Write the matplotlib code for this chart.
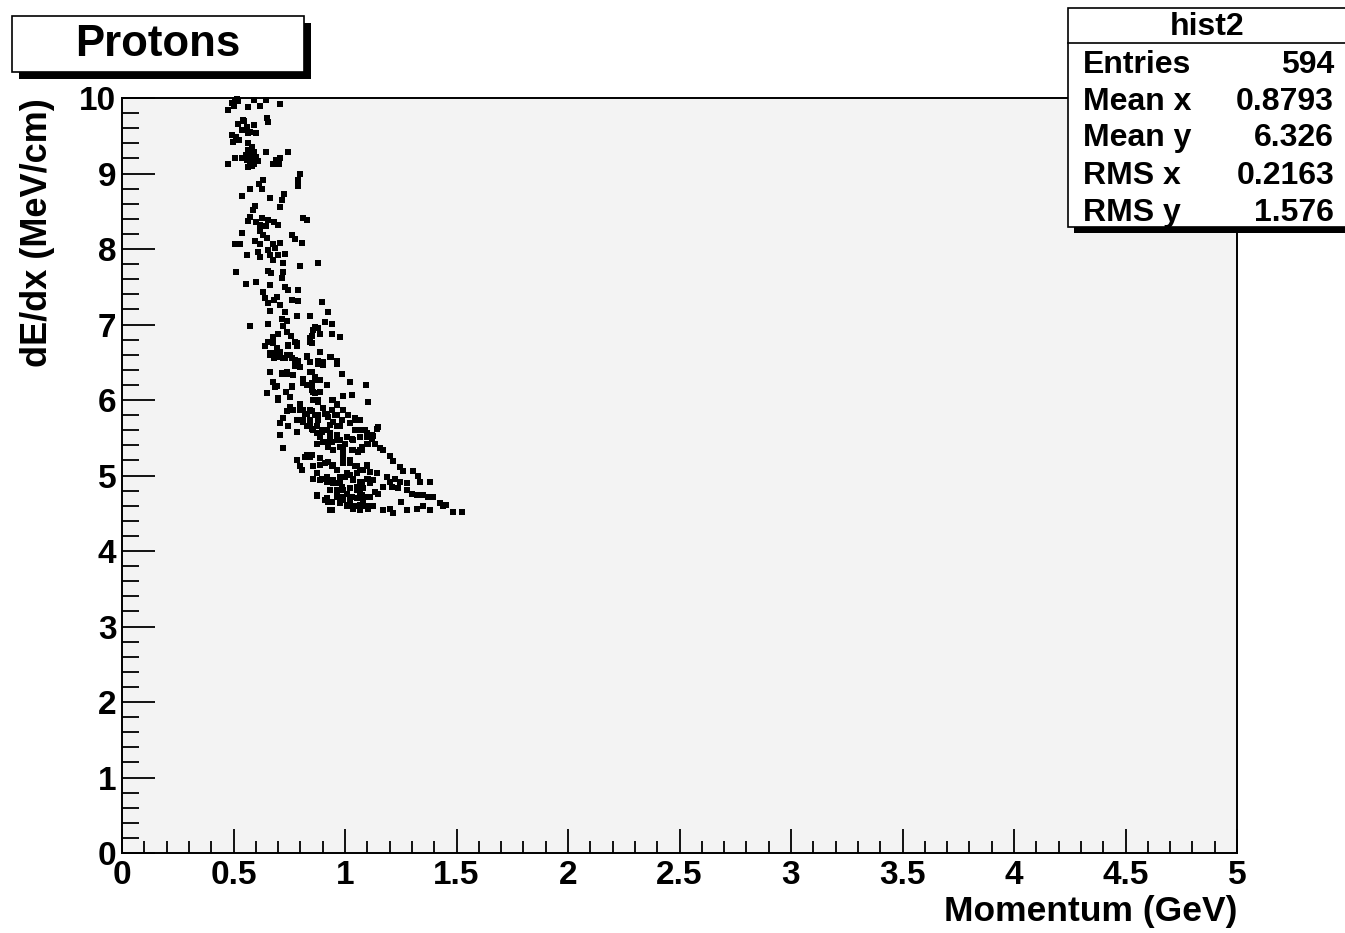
import matplotlib
matplotlib.use("Agg")
import matplotlib.pyplot as plt
from matplotlib.patches import Rectangle
from matplotlib.ticker import MultipleLocator

plt.rcParams['font.family'] = ['Liberation Sans', 'DejaVu Sans']
plt.rcParams['font.weight'] = 'bold'

# (momentum GeV, dE/dx MeV/cm), by band of dE/dx
pts_top = [
    (0.477, 9.84), (0.492, 9.93), (0.507, 9.97), (0.522, 9.96), (0.566, 9.88),
    (0.593, 9.98), (0.619, 9.90), (0.644, 9.98), (0.709, 9.92), (0.649, 9.73),
    (0.656, 9.68), (0.522, 9.66), (0.548, 9.70), (0.559, 9.62), (0.593, 9.64),
    (0.537, 9.57), (0.566, 9.54), (0.599, 9.53), (0.492, 9.51), (0.510, 9.48),
    (0.499, 9.42), (0.525, 9.44), (0.566, 9.40), (0.584, 9.35), (0.555, 9.24),
    (0.570, 9.27), (0.593, 9.29), (0.599, 9.22), (0.574, 9.16), (0.559, 9.18),
    (0.581, 9.10), (0.611, 9.16), (0.507, 9.21), (0.477, 9.13), (0.644, 9.29),
    (0.743, 9.29), (0.689, 9.18), (0.709, 9.20), (0.704, 9.12), (0.679, 9.12),
    (0.537, 9.21), (0.596, 9.16), (0.585, 9.20), (0.565, 9.31), (0.590, 9.12),
    (0.507, 9.96), (0.544, 9.71), (0.559, 9.60), (0.574, 9.55), (0.581, 9.22),
    (0.596, 9.16), (0.559, 9.24), (0.566, 9.09), (0.694, 9.16), (0.709, 9.20),
    (0.515, 9.99), (0.500, 9.90), (0.578, 9.26), (0.588, 9.18),
]
pts_upper = [
    (0.798, 9.00), (0.791, 8.91), (0.791, 8.83), (0.634, 8.92), (0.614, 8.86),
    (0.629, 8.79), (0.574, 8.79), (0.537, 8.70), (0.664, 8.68), (0.726, 8.73),
    (0.716, 8.65), (0.709, 8.55), (0.596, 8.57), (0.589, 8.51), (0.574, 8.43),
    (0.566, 8.37), (0.599, 8.36), (0.629, 8.41), (0.656, 8.39), (0.683, 8.36),
    (0.698, 8.32), (0.619, 8.32), (0.813, 8.41), (0.828, 8.38), (0.644, 8.30),
    (0.537, 8.21), (0.619, 8.24), (0.634, 8.19), (0.649, 8.15), (0.761, 8.19),
    (0.776, 8.13), (0.809, 8.08), (0.507, 8.07), (0.529, 8.07), (0.596, 8.10),
    (0.619, 8.07), (0.679, 8.07), (0.709, 8.08), (0.653, 7.99), (0.686, 8.01),
    (0.611, 7.96), (0.619, 7.89), (0.559, 7.92), (0.664, 7.92), (0.701, 7.92),
    (0.731, 7.94), (0.679, 7.85), (0.723, 7.81), (0.798, 7.77), (0.880, 7.81),
]
pts_mid = [
    (0.510, 7.70), (0.653, 7.71), (0.668, 7.68), (0.723, 7.70), (0.716, 7.61),
    (0.555, 7.54), (0.599, 7.56), (0.664, 7.52), (0.731, 7.50), (0.746, 7.46),
    (0.791, 7.46), (0.634, 7.43), (0.641, 7.35), (0.656, 7.28), (0.694, 7.37),
    (0.683, 7.32), (0.761, 7.33), (0.791, 7.31), (0.709, 7.26), (0.731, 7.17),
    (0.664, 7.18), (0.895, 7.30), (0.925, 7.17), (0.843, 7.11), (0.783, 7.11),
    (0.910, 7.03), (0.574, 6.98), (0.653, 7.01), (0.716, 7.07), (0.739, 7.04),
    (0.723, 6.98), (0.940, 7.01), (0.943, 6.88), (0.978, 6.83), (0.858, 6.93),
    (0.880, 6.96), (0.739, 6.90), (0.758, 6.85), (0.776, 6.77), (0.701, 6.87),
    (0.679, 6.83), (0.664, 6.77), (0.641, 6.72), (0.843, 6.82), (0.851, 6.75),
    (0.746, 6.72), (0.783, 6.71), (0.694, 6.69), (0.664, 6.62), (0.828, 6.58),
    (0.888, 6.64), (0.937, 6.57), (0.709, 6.57), (0.739, 6.60), (0.888, 6.88),
    (0.866, 6.97), (0.850, 6.85), (0.683, 6.55), (0.720, 6.55), (0.763, 6.55),
    (0.791, 6.52), (0.843, 6.50), (0.880, 6.52), (0.903, 6.50), (0.962, 6.52),
]
pts_low = [
    (0.664, 6.37), (0.716, 6.36), (0.739, 6.35), (0.768, 6.33), (0.843, 6.37),
    (0.865, 6.31), (0.851, 6.22), (0.888, 6.26), (0.985, 6.35), (1.022, 6.24),
    (1.094, 6.20), (0.679, 6.24), (0.694, 6.18), (0.761, 6.18), (0.828, 6.20),
    (0.851, 6.13), (0.649, 6.09), (0.701, 6.00), (0.753, 6.04), (0.865, 6.09),
    (0.880, 6.00), (0.948, 6.00), (0.962, 5.93), (1.030, 6.07), (1.105, 5.98),
    (0.753, 5.91), (0.768, 5.87), (0.798, 5.87), (0.821, 5.82), (0.843, 5.87),
    (0.865, 5.80), (0.813, 5.74), (0.843, 5.71), (0.880, 5.74), (0.910, 5.82),
    (0.925, 5.78), (0.948, 5.71), (0.978, 5.65), (0.993, 5.87), (1.015, 5.80),
    (1.045, 5.74), (1.067, 5.74), (1.090, 5.60), (0.723, 5.76), (0.709, 5.69),
    (0.746, 5.65), (0.783, 5.58), (1.045, 5.76), (1.150, 5.64), (1.052, 5.60),
    (1.082, 5.60), (0.800, 5.95), (0.900, 5.90), (0.955, 5.80), (0.830, 5.66),
    (0.775, 6.45), (0.810, 6.28), (0.920, 6.20), (0.735, 6.10), (0.990, 6.05),
]
pts_band = [
    (0.656, 6.77), (0.679, 6.75), (0.746, 6.73), (0.783, 6.75), (0.843, 6.77),
    (0.888, 6.64), (0.933, 6.57), (0.962, 6.48), (0.985, 6.35), (0.664, 6.60),
    (0.686, 6.62), (0.709, 6.64), (0.731, 6.55), (0.753, 6.60), (0.776, 6.53),
    (0.798, 6.44), (0.828, 6.57), (0.880, 6.48), (0.903, 6.46), (0.664, 6.37),
    (0.716, 6.35), (0.739, 6.37), (0.768, 6.33), (0.851, 6.37), (0.865, 6.31),
    (0.880, 6.26), (0.679, 6.24), (0.686, 6.17), (0.761, 6.17), (0.813, 6.22),
    (0.851, 6.17), (0.858, 6.11), (0.888, 6.11), (0.649, 6.09), (0.701, 6.02),
    (0.753, 6.04), (0.858, 6.00), (0.880, 5.98), (0.940, 6.00), (0.962, 5.95),
    (0.753, 5.91), (0.739, 5.85), (0.813, 5.87), (0.828, 5.82), (0.851, 5.85),
    (0.723, 5.76), (0.783, 5.74), (0.813, 5.71), (0.843, 5.74), (0.880, 5.80),
    (0.918, 5.82), (0.940, 5.87), (0.962, 5.80), (0.985, 5.74),
]
pts_bottom = [
    (0.709, 5.54), (0.723, 5.36), (0.851, 5.62), (0.873, 5.56), (0.895, 5.58),
    (0.918, 5.60), (0.933, 5.51), (0.962, 5.54), (0.978, 5.47), (1.008, 5.51),
    (1.030, 5.49), (1.067, 5.51), (1.097, 5.56), (0.873, 5.42), (0.903, 5.45),
    (0.925, 5.38), (0.948, 5.34), (0.993, 5.34), (1.030, 5.34), (1.067, 5.34),
    (1.127, 5.52), (1.120, 5.49), (1.097, 5.42), (1.075, 5.34), (1.060, 5.31),
    (1.157, 5.36), (1.172, 5.34), (0.783, 5.21), (0.821, 5.25), (0.843, 5.25),
    (0.888, 5.23), (0.925, 5.18), (0.948, 5.14), (0.962, 5.07), (0.993, 5.16),
    (1.022, 5.21), (1.045, 5.12), (1.067, 5.07), (1.097, 5.14), (0.806, 5.07),
    (0.858, 5.12), (0.873, 5.03), (0.895, 4.96), (0.918, 4.98), (0.948, 4.94),
    (0.978, 4.98), (1.008, 5.03), (1.037, 4.96), (1.075, 4.92), (1.105, 4.96),
    (1.202, 5.26), (1.217, 5.19), (1.247, 5.11), (1.262, 5.06), (1.306, 5.06),
    (1.329, 4.99), (1.336, 4.92), (1.381, 4.92), (1.142, 5.03), (1.187, 4.98),
    (1.202, 4.92), (1.224, 4.96), (1.247, 4.92), (1.277, 4.90), (1.127, 4.94),
    (0.993, 5.21), (1.022, 5.16), (1.052, 5.12), (1.000, 4.98), (1.037, 4.94),
    (1.067, 4.92), (1.097, 5.12), (1.112, 5.05), (0.940, 5.45), (1.000, 5.42),
]
pts_dense = [
    (0.843, 5.69), (0.873, 5.65), (0.903, 5.60), (0.933, 5.56), (0.962, 5.47),
    (0.978, 5.38), (0.993, 5.29), (0.888, 5.51), (0.918, 5.45), (0.948, 5.34),
    (0.858, 5.60), (0.933, 5.67), (0.962, 5.65), (1.022, 5.69), (1.045, 5.60),
    (1.075, 5.60), (1.097, 5.51), (1.120, 5.54), (1.142, 5.62), (1.135, 5.42),
    (1.105, 5.42), (1.075, 5.38), (1.037, 5.47), (1.037, 5.34), (0.828, 5.27),
    (0.851, 5.27), (0.910, 5.16), (0.940, 5.12), (0.962, 5.07), (0.798, 5.12),
    (0.858, 5.12), (0.888, 5.14), (0.858, 4.96), (0.888, 4.94), (0.918, 4.92),
    (0.948, 4.90), (0.978, 4.90), (0.993, 4.98), (1.022, 5.01), (1.052, 5.03),
    (1.082, 5.07), (1.097, 4.96), (1.127, 4.94), (1.142, 5.03), (0.933, 4.81),
    (0.962, 4.78), (0.993, 4.81), (1.022, 4.83), (1.052, 4.85), (1.082, 4.83),
    (0.962, 4.72), (0.993, 4.68), (1.022, 4.65), (1.052, 4.70), (1.082, 4.68),
    (1.112, 4.72), (1.135, 4.78), (1.008, 4.59), (1.037, 4.56), (1.067, 4.61),
    (1.097, 4.59), (0.940, 4.54), (0.925, 4.65), (0.873, 4.74), (0.910, 4.68),
    (1.112, 4.90), (1.067, 4.76),
]
pts_floor = [
    (0.873, 4.73), (0.918, 4.70), (0.940, 4.65), (0.933, 4.54), (0.962, 4.81),
    (0.985, 4.85), (1.008, 4.76), (1.030, 4.72), (1.052, 4.81), (1.075, 4.74),
    (1.097, 4.72), (0.978, 4.63), (1.008, 4.61), (1.045, 4.59), (1.075, 4.59),
    (1.105, 4.56), (1.172, 4.85), (1.209, 4.85), (1.239, 4.83), (1.277, 4.81),
    (1.299, 4.76), (1.321, 4.74), (1.351, 4.74), (1.373, 4.72), (1.396, 4.72),
    (1.426, 4.63), (1.455, 4.61), (1.485, 4.52), (1.523, 4.52), (1.037, 4.59),
    (1.067, 4.54), (1.127, 4.59), (1.172, 4.54), (1.202, 4.56), (1.217, 4.50),
    (1.277, 4.54), (1.321, 4.56), (1.351, 4.59), (1.381, 4.54), (1.441, 4.59),
    (0.993, 4.72), (1.022, 4.70), (0.960, 4.90), (1.150, 4.75), (1.250, 4.65),
]

stat_labels = ['Entries', 'Mean x', 'Mean y', 'RMS x', 'RMS y']
stat_values = ['594', '0.8793', '6.326', '0.2163', '1.576']

W, H = 1345, 933
fig = plt.figure(figsize=(W / 100, H / 100), dpi=100, facecolor='white')
ax = fig.add_axes([122 / W, 1 - 853 / H, (1237 - 122) / W, (853 - 98) / H])
ax.set_facecolor('#f3f3f3')

all_pts = (pts_top + pts_upper + pts_mid + pts_band + pts_low + pts_bottom
           + pts_dense + pts_floor)
ax.plot([p[0] for p in all_pts], [p[1] for p in all_pts], 's', color='black',
        ms=4.3, mew=0, clip_on=False)

ax.set_xlim(0, 5)
ax.set_ylim(0, 10)
ax.xaxis.set_minor_locator(MultipleLocator(0.1))
ax.yaxis.set_minor_locator(MultipleLocator(0.2))
ax.set_xticks([0, 0.5, 1, 1.5, 2, 2.5, 3, 3.5, 4, 4.5, 5])
ax.set_xticklabels(['0', '0.5', '1', '1.5', '2', '2.5', '3', '3.5', '4', '4.5', '5'])
ax.set_yticks(range(11))
ax.set_yticklabels([str(i) for i in range(11)])
ax.tick_params(axis='x', which='major', direction='in', length=17, width=1.3,
               labelsize=24, pad=5)
ax.tick_params(axis='x', which='minor', direction='in', length=8.5, width=1.3)
ax.tick_params(axis='y', which='major', direction='in', length=24, width=1.3,
               labelsize=24, pad=4)
ax.tick_params(axis='y', which='minor', direction='in', length=12, width=1.3)
for lab in ax.get_xticklabels() + ax.get_yticklabels():
    lab.set_fontweight('bold')
for s in ax.spines.values():
    s.set_linewidth(1.4)

fig.text(1237 / W, 1 - 912 / H, 'Momentum (GeV)', ha='right', va='center',
         fontsize=25.5, fontweight='bold')
fig.text(38 / W, 1 - 98 / H, 'dE/dx (MeV/cm)', ha='center', va='top',
         rotation=90, fontsize=26, fontweight='bold')


def fbox(x0, y0, x1, y1, **kw):
    # rectangle given in pixel coordinates from the top-left corner
    r = Rectangle((x0 / W, 1 - y1 / H), (x1 - x0) / W, (y1 - y0) / H,
                  transform=fig.transFigure, **kw)
    fig.patches.append(r)


# title box with shadow
fbox(19, 23, 311, 79, facecolor='black', edgecolor='none')
fbox(12, 16, 304, 72, facecolor='white', edgecolor='black', lw=1.2)
fig.text(158 / W, 1 - 45 / H, 'Protons', ha='center', va='center',
         fontsize=31.5, fontweight='bold')

# stats box with shadow
fbox(1074, 14, 1351, 233, facecolor='black', edgecolor='none')
fbox(1068, 8, 1346, 227, facecolor='white', edgecolor='black', lw=1.2)
fig.add_artist(plt.Line2D([1068 / W, 1.0], [1 - 43 / H, 1 - 43 / H],
                          transform=fig.transFigure, color='black', lw=1.2))
fig.text(1207 / W, 1 - 27 / H, 'hist2', ha='center', va='center',
         fontsize=23, fontweight='bold')
row_y = [65, 102, 138, 176, 213]
for lab, val, yy in zip(stat_labels, stat_values, row_y):
    fig.text(1083 / W, 1 - yy / H, lab, ha='left', va='center',
             fontsize=23, fontweight='bold')
    fig.text(1334 / W, 1 - yy / H, val, ha='right', va='center',
             fontsize=23, fontweight='bold')

fig.savefig('out.png', dpi=100, facecolor='white')
